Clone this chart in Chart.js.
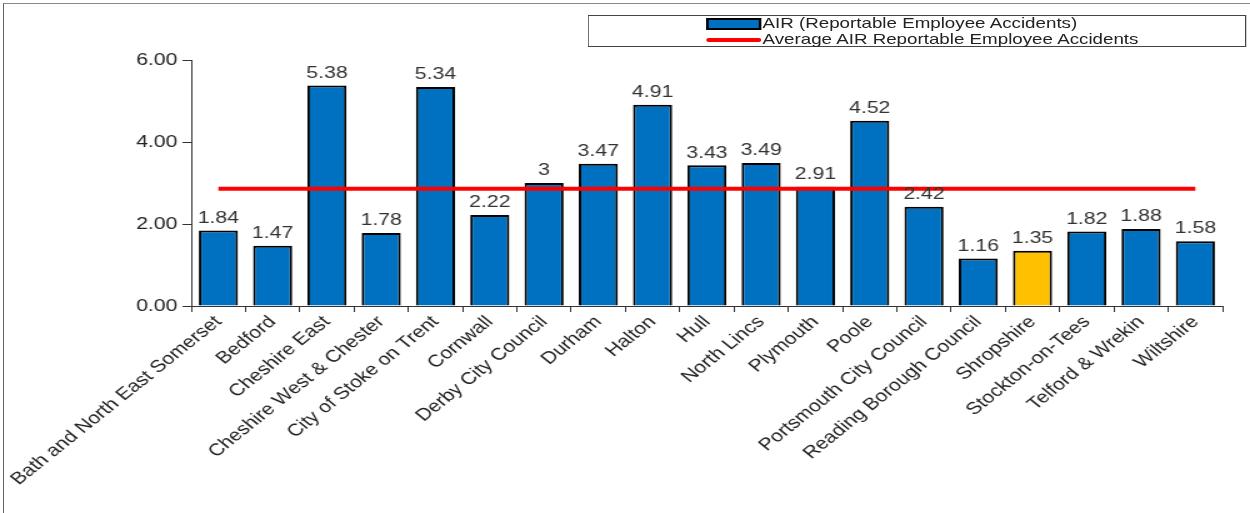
<!DOCTYPE html>
<html>
<head>
<meta charset="utf-8">
<script src="https://cdn.jsdelivr.net/npm/chart.js@4/dist/chart.umd.min.js"></script>
<style>
    html, body { margin: 0; padding: 0; background: #fff; overflow: hidden; }
    #pagina { position: relative; width: 1250px; height: 513px; }
    /* the original picture is stretched sideways, so the chart is drawn at 1000px and widened */
    #wrap { position: absolute; left: 0; top: 0; width: 1000px; height: 513px; transform: scaleX(1.25); transform-origin: 0 0; }
    #frame { position: absolute; left: 3px; top: 3px; right: 0; bottom: 0; border-left: 1px solid #666; border-top: 1px solid #888; pointer-events: none; }
    #legenda { position: absolute; left: 470px; top: 15px; width: 525px; height: 30px; border: 1px solid #444; background: #fff;
        font-family: 'Liberation Sans', Arial, sans-serif; font-size: 15px; color: #222; line-height: 16px; }
    #legenda .item { position: absolute; left: 94px; white-space: nowrap; }
    #legenda .mk { display: inline-block; vertical-align: middle; margin-right: 1px; }
</style>
</head>
<body>
<div id="pagina">
    <div id="wrap">
        <canvas id="grafico" width="1000" height="513"></canvas>
        <div id="legenda"></div>
    </div>
    <div id="frame"></div>
</div>
<script>
// ======================== DADOS ========================
const categorias = [
    'Bath and North East Somerset', 'Bedford', 'Cheshire East', 'Cheshire West & Chester',
    'City of Stoke on Trent', 'Cornwall', 'Derby City Council', 'Durham', 'Halton', 'Hull',
    'North Lincs', 'Plymouth', 'Poole', 'Portsmouth City Council', 'Reading Borough Council',
    'Shropshire', 'Stockton-on-Tees', 'Telford & Wrekin', 'Wiltshire',
];
const valoresAIR = [1.84, 1.47, 5.38, 1.78, 5.34, 2.22, 3, 3.47, 4.91, 3.43, 3.49, 2.91, 4.52, 2.42, 1.16, 1.35, 1.82, 1.88, 1.58];
const mediaAIR = [2.86, 2.86, 2.86, 2.86, 2.86, 2.86, 2.86, 2.86, 2.86, 2.86, 2.86, 2.86, 2.86, 2.86, 2.86, 2.86, 2.86, 2.86, 2.86];
const ticksY = [0, 2, 4, 6];
const destaque = 'Shropshire';

const FONTE = "'Liberation Sans', Arial, sans-serif";

// ======================== RÓTULOS DAS BARRAS ========================
const rotulosBarras = {
    id: 'rotulosBarras',
    afterDatasetsDraw(chart) {
        const ctx = chart.ctx;
        const meta = chart.getDatasetMeta(1);
        ctx.save();
        ctx.font = '17px ' + FONTE;
        ctx.fillStyle = '#333';
        ctx.textAlign = 'center';
        ctx.textBaseline = 'bottom';
        meta.data.forEach((bar, i) => {
            ctx.fillText(String(valoresAIR[i]), bar.x, bar.y - 4);
        });
        ctx.restore();
    },
};

const chart = new Chart(document.getElementById('grafico'), {
    type: 'bar',
    data: {
        labels: categorias,
        datasets: [
            {
                type: 'line',
                label: 'Average AIR Reportable Employee Accidents',
                data: mediaAIR,
                borderColor: '#ff0000',
                borderWidth: 4,
                pointRadius: 0,
                fill: false,
                order: 0,
            },
            {
                label: 'AIR (Reportable Employee Accidents)',
                data: valoresAIR,
                backgroundColor: categorias.map((c) => (c === destaque ? '#ffc000' : '#0070c0')),
                borderColor: '#000',
                borderWidth: 2,
                barPercentage: 0.72,
                categoryPercentage: 1,
                order: 1,
            },
        ],
    },
    options: {
        responsive: false,
        animation: false,
        layout: { padding: { left: 0, right: 22, top: 60, bottom: 0 } },
        plugins: { legend: { display: false }, tooltip: { enabled: false } },
        scales: {
            x: {
                grid: { drawOnChartArea: false, tickLength: 6, color: '#333', offset: true },
                border: { color: '#333', width: 1 },
                ticks: { maxRotation: 45, minRotation: 45, color: '#222', font: { family: FONTE, size: 17 }, padding: 0 },
                afterFit(scale) { scale.height = 207; },
            },
            y: {
                min: 0,
                max: 6,
                afterBuildTicks(scale) { scale.ticks = ticksY.map((v) => ({ value: v })); },
                grid: { drawOnChartArea: false, tickLength: 7, color: '#333' },
                border: { color: '#333', width: 1 },
                ticks: { color: '#222', font: { family: FONTE, size: 17 }, padding: 4, callback: (v) => Number(v).toFixed(2) },
                afterFit(scale) { scale.width = 153; },
            },
        },
    },
    plugins: [rotulosBarras],
});

// ======================== LEGENDA ========================
document.getElementById('legenda').innerHTML = `
    <div class="item" style="top:-1px;"><span class="mk" style="width:40px;height:8px;background:#0070c0;border:2px solid #000;"></span>${chart.data.datasets[1].label}</div>
    <div class="item" style="top:15px;"><span class="mk" style="width:44px;height:4px;background:#ff0000;border-radius:2px;"></span>${chart.data.datasets[0].label}</div>
`;
</script>
</body>
</html>
